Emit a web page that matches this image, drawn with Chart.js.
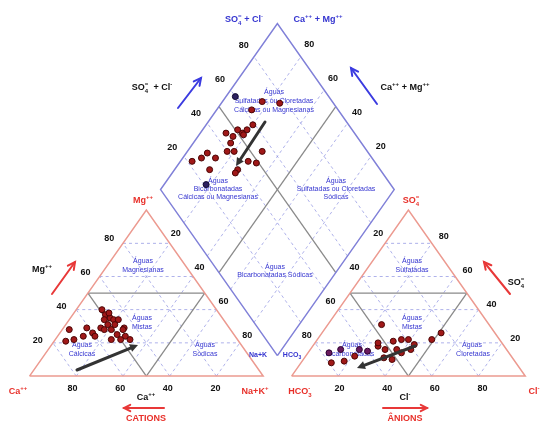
<!DOCTYPE html>
<html><head><meta charset="utf-8">
<script src="https://cdn.jsdelivr.net/npm/chart.js@4"></script>
<style>html,body{margin:0;padding:0;background:#fff}canvas{display:block}</style>
</head><body>
<canvas id="c" width="542" height="426"></canvas>
<script>
// ---------------- data (percentages) ----------------
const tickValues = [20, 40, 60, 80];
const faciesLimit = 50;
// cation triangle: Ca %, Mg % (Na+K = remainder)
const cationCa = [49,49,48,51,47,51,55,54,51,48,45,61,60,60,69,74,70,50,46,47,46,50,54,47,45,65];
const cationMg = [40,37,35,34,34,31,29,28,28,31,29,29,26,24,28,21,22,25,28,24,22,22,22,38,34,24];
// anion triangle: Cl %, SO4 % (HCO3 = remainder)
const anionCl  = [13,18,21,23,28,32,34,38,33,37,36,39,43,43,49,51,27,40];
const anionSO4 = [ 8, 9,12,31,18,16,11,10,21,16,22,22,16,19,22,26,20,14];
const anionCl2  = [9,13,21,25];
const anionSO42 = [14,16,16,15];
// diamond: SO4+Cl %, Ca+Mg %
const diamondSO4Cl = [63,70,77,59,55,52,51,47,45,44,43,40,31,27,22,33,27,39,46,49,55,52,37];
const diamondCaMg  = [85,83,75,80,81,82,85,85,89,84,80,83,91,92,95,86,85,73,71,67,68,81,73];
const diamondSO4Cl2 = [60,21];
const diamondCaMg2  = [96,82];

// ---------------- geometry ----------------
const G = {
  L0:[25,380], L1:[263,380], L2:[144,210],
  R0:[292,380], R1:[530,380], R2:[411,210],
  D0:[277.5,359], Dl:[158.5,189], Dr:[396.5,189]
};
function cat(ca, mg){ const na=100-ca-mg;
  return {x:(G.L0[0]*ca+G.L1[0]*na+G.L2[0]*mg)/100, y:(G.L0[1]*ca+G.L1[1]*na+G.L2[1]*mg)/100}; }
function an(cl, so4){ const h=100-cl-so4;
  return {x:(G.R0[0]*h+G.R1[0]*cl+G.R2[0]*so4)/100, y:(G.R0[1]*h+G.R1[1]*cl+G.R2[1]*so4)/100}; }
function dia(a, c){
  return {x:G.D0[0]+(G.Dr[0]-G.D0[0])*a/100+(G.Dl[0]-G.D0[0])*c/100,
          y:G.D0[1]+(G.Dr[1]-G.D0[1])*a/100+(G.Dl[1]-G.D0[1])*c/100}; }

const datasets = [];
function line(pts, color, width, dash, order){
  datasets.push({data:pts, showLine:true, borderColor:color, borderWidth:width,
    borderDash:dash||[], pointRadius:0, fill:false, order:order, tension:0});
}
const DASH='rgba(120,125,220,0.75)', FAC='#8a8a8a', TRI='#ec9a90', DIA='#8080d8';
// dashed grids
tickValues.forEach(v=>{
  line([cat(100-v,v),cat(0,v)],DASH,0.8,[3,3],5);
  line([cat(v,0),cat(v,100-v)],DASH,0.8,[3,3],5);
  line([cat(100-v,0),cat(0,100-v)],DASH,0.8,[3,3],5);
  line([an(0,v),an(100-v,v)],DASH,0.8,[3,3],5);
  line([an(v,0),an(v,100-v)],DASH,0.8,[3,3],5);
  line([an(100-v,0),an(0,100-v)],DASH,0.8,[3,3],5);
  line([dia(v,0),dia(v,100)],DASH,0.8,[3,3],5);
  line([dia(0,v),dia(100,v)],DASH,0.8,[3,3],5);
});
// facies limits
const f=faciesLimit;
line([cat(f,f),cat(0,f)],FAC,1.3,[],4);
line([cat(f,0),cat(f,100-f)],FAC,1.3,[],4);
line([cat(f,0),cat(0,100-f)],FAC,1.3,[],4);
line([an(0,f),an(100-f,f)],FAC,1.3,[],4);
line([an(f,0),an(f,100-f)],FAC,1.3,[],4);
line([an(100-f,0),an(0,100-f)],FAC,1.3,[],4);
line([dia(f,0),dia(f,100)],FAC,1.3,[],4);
line([dia(0,f),dia(100,f)],FAC,1.3,[],4);
// outlines
line([cat(100,0),cat(0,0),cat(0,100),cat(100,0)],TRI,1.5,[],3);
line([an(0,0),an(100,0),an(0,100),an(0,0)],TRI,1.5,[],3);
line([dia(0,0),dia(100,0),dia(100,100),dia(0,100),dia(0,0)],DIA,1.5,[],3);

// points
function pts(data, bg, bd){
  datasets.push({data:data, showLine:false, pointRadius:3, pointBackgroundColor:bg,
    pointBorderColor:bd, pointBorderWidth:1, order:0});
}
const RED='#a01818', RBD='#4a0505';
pts(cationCa.map((c,i)=>cat(c,cationMg[i])),RED,RBD);
pts(anionCl.map((c,i)=>an(c,anionSO4[i])),RED,RBD);
pts(anionCl2.map((c,i)=>an(c,anionSO42[i])),'#6a1a5e','#2a0030');
pts(diamondSO4Cl.map((a,i)=>dia(a,diamondCaMg[i])),RED,RBD);
pts(diamondSO4Cl2.map((a,i)=>dia(a,diamondCaMg2[i])),'#2c2060','#100830');

// ---------------- text helpers ----------------
function rich(ctx, x, y, str, size, color, bold, align){
  const toks = str.match(/(\^\{[^}]*\}|_\{[^}]*\}|[^^_]+)/g);
  const fN = (bold?'bold ':'')+size+'px "Liberation Sans", Arial, sans-serif';
  const ss = Math.round(size*0.7);
  const fS = (bold?'bold ':'')+ss+'px "Liberation Sans", Arial, sans-serif';
  const items=[]; let cx=0, lastScript=null;
  toks.forEach(t=>{
    if(t[0]==='^'||t[0]==='_'){
      const txt=t.slice(2,-1); ctx.font=fS; const w=ctx.measureText(txt).width;
      let sx=cx;
      if(lastScript && lastScript.type!==t[0]){ sx=lastScript.x; cx=Math.max(cx, sx+w); }
      else cx+=w;
      items.push({txt, x:sx, dy:(t[0]==='^'?-size*0.42:size*0.32), font:fS});
      lastScript={type:t[0], x:sx};
    } else {
      ctx.font=fN; const w=ctx.measureText(t).width;
      items.push({txt:t, x:cx, dy:0, font:fN}); cx+=w; lastScript=null;
    }
  });
  let x0 = align==='left'?x:(align==='right'?x-cx:x-cx/2);
  ctx.fillStyle=color; ctx.textBaseline='middle'; ctx.textAlign='left';
  items.forEach(it=>{ ctx.font=it.font; ctx.fillText(it.txt, x0+it.x, y+it.dy); });
}
function arrow(ctx,x1,y1,x2,y2,color,w,head,filled){
  const ang=Math.atan2(y2-y1,x2-x1);
  ctx.save(); ctx.strokeStyle=color; ctx.fillStyle=color; ctx.lineWidth=w; ctx.lineCap='round';
  ctx.beginPath(); ctx.moveTo(x1,y1);
  ctx.lineTo(x2-Math.cos(ang)*(filled?head*0.6:0), y2-Math.sin(ang)*(filled?head*0.6:0)); ctx.stroke();
  const a1=ang+Math.PI*0.85, a2=ang-Math.PI*0.85;
  ctx.beginPath();
  ctx.moveTo(x2+Math.cos(a1)*head, y2+Math.sin(a1)*head);
  ctx.lineTo(x2,y2);
  ctx.lineTo(x2+Math.cos(a2)*head, y2+Math.sin(a2)*head);
  if(filled){ ctx.closePath(); ctx.fill(); } else ctx.stroke();
  ctx.restore();
}

const BLUE='#3535d0', REDT='#e8302a', BLACK='#111';
const regionLabels = [
  [274,92,'Águas'],[274,101,'Sulfatadas ou Cloretadas'],[274,110,'Cálcicas ou Magnesianas'],
  [218,181,'Águas'],[218,189,'Bicarbonatadas'],[218,197,'Cálcicas ou Magnesianas'],
  [336,181,'Águas'],[336,189,'Sulfatadas ou Cloretadas'],[336,197,'Sódicas'],
  [275,267,'Águas'],[275,275,'Bicarbonatadas Sódicas'],
  [143,261,'Águas'],[143,270,'Magnesianas'],
  [142,318,'Águas'],[142,327,'Mistas'],
  [82,345,'Águas'],[82,354,'Cálcicas'],
  [205,345,'Águas'],[205,354,'Sódicas'],
  [412,261,'Águas'],[412,270,'Sulfatadas'],
  [412,318,'Águas'],[412,327,'Mistas'],
  [352,345,'Águas'],[350,354,'Bicarbonatadas'],
  [472,345,'Águas'],[473,354,'Cloretadas']
];

const textPlugin = {
  id:'piperText',
  beforeDatasetsDraw(chart){
    const ctx=chart.ctx; ctx.save();
    regionLabels.forEach(r=>rich(ctx,r[0],r[1],r[2],7,BLUE,false,'center'));
    tickValues.forEach(v=>{
      let p;
      p=cat(v,0); rich(ctx,p.x,p.y+9,String(v),9,BLACK,true,'center');
      p=cat(100-v,v); rich(ctx,p.x-11,p.y-5,String(v),9,BLACK,true,'center');
      p=cat(0,100-v); rich(ctx,p.x+8,p.y-10,String(v),9,BLACK,true,'center');
      p=an(v,0); rich(ctx,p.x,p.y+9,String(v),9,BLACK,true,'center');
      p=an(0,100-v); rich(ctx,p.x-9,p.y-10,String(v),9,BLACK,true,'center');
      p=an(100-v,v); rich(ctx,p.x+9,p.y-7,String(v),9,BLACK,true,'center');
      p=dia(v,100); rich(ctx,p.x-10,p.y-7,String(v),9,BLACK,true,'center');
      p=dia(100,v); rich(ctx,p.x+8,p.y-8,String(v),9,BLACK,true,'center');
    });
    ctx.restore();
  },
  afterDatasetsDraw(chart){
    const ctx=chart.ctx; ctx.save();
    rich(ctx,143,201,'Mg^{++}',9,REDT,true,'center');
    rich(ctx,18,392,'Ca^{++}',9,REDT,true,'center');
    rich(ctx,255,392,'Na+K^{+}',9,REDT,true,'center');
    rich(ctx,411,201,'SO_{4}^{=}',9,REDT,true,'center');
    rich(ctx,300,392,'HCO_{3}^{-}',9,REDT,true,'center');
    rich(ctx,534,392,'Cl^{-}',9,REDT,true,'center');
    rich(ctx,244,20,'SO_{4}^{=} + Cl^{-}',9,BLUE,true,'center');
    rich(ctx,318,20,'Ca^{++} + Mg^{++}',9,BLUE,true,'center');
    rich(ctx,258,355,'Na+K',7,BLUE,true,'center');
    rich(ctx,292,355,'HCO_{3}',7,BLUE,true,'center');
    rich(ctx,152,88,'SO_{4}^{=}  + Cl^{-}',9,BLACK,true,'center');
    arrow(ctx,178,108,201,78,'#3b3be0',2,8,false);
    rich(ctx,405,88,'Ca^{++} + Mg^{++}',9,BLACK,true,'center');
    arrow(ctx,377,104,351,68,'#3b3be0',2,8,false);
    rich(ctx,42,270,'Mg^{++}',9,BLACK,true,'center');
    arrow(ctx,52,294,75,262,'#e83838',2,8,false);
    rich(ctx,516,283,'SO_{4}^{=}',9,BLACK,true,'center');
    arrow(ctx,510,294,484,262,'#e83838',2,8,false);
    rich(ctx,146,398,'Ca^{++}',9,BLACK,true,'center');
    arrow(ctx,164,408,124,408,'#e83838',2,7,false);
    rich(ctx,146,419,'CATIONS',9,REDT,true,'center');
    rich(ctx,405,398,'Cl^{-}',9,BLACK,true,'center');
    arrow(ctx,383,408,427,408,'#e83838',2,7,false);
    rich(ctx,405,419,'ÂNIONS',9,REDT,true,'center');
    arrow(ctx,265,122,236,166,'#333',3,9,true);
    arrow(ctx,77,370,138,345,'#333',3,9,true);
    arrow(ctx,415,346,357,368,'#333',3,9,true);
    ctx.restore();
  }
};

new Chart(document.getElementById('c'), {
  type:'scatter',
  data:{datasets},
  options:{
    responsive:false, animation:false, devicePixelRatio:1, events:[],
    layout:{padding:0},
    plugins:{legend:{display:false}, tooltip:{enabled:false}},
    scales:{
      x:{type:'linear', min:0, max:542, display:false},
      y:{type:'linear', min:0, max:426, reverse:true, display:false}
    }
  },
  plugins:[textPlugin]
});
</script>
</body></html>
